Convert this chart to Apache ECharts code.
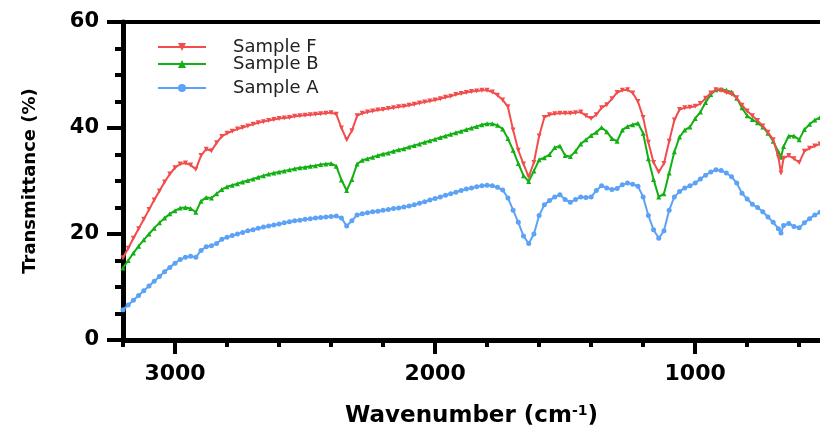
<!DOCTYPE html>
<html>
<head>
<meta charset="utf-8">
<script src="https://cdn.jsdelivr.net/npm/echarts@6/dist/echarts.min.js"></script>
<style>
html,body{margin:0;padding:0;background:#fff;}
#chart{width:820px;height:425px;}
</style>
</head>
<body>
<div id="chart"></div>
<script>
// Wavenumber sample positions (cm-1)
const wavenumbers = [
  3200,3180,3160,3140,3120,3100,3080,3060,3040,3020,
  3000,2980,2960,2940,2920,2900,2880,2860,2840,2820,
  2800,2780,2760,2740,2720,2700,2680,2660,2640,2620,
  2600,2580,2560,2540,2520,2500,2480,2460,2440,2420,
  2400,2380,2360,2340,2320,2300,2280,2260,2240,2220,
  2200,2180,2160,2140,2120,2100,2080,2060,2040,2020,
  2000,1980,1960,1940,1920,1900,1880,1860,1840,1820,
  1800,1780,1760,1740,1720,1700,1680,1660,1640,1620,
  1600,1580,1560,1540,1520,1500,1480,1460,1440,1420,
  1400,1380,1360,1340,1320,1300,1280,1260,1240,1220,
  1200,1180,1160,1140,1120,1100,1080,1060,1040,1020,
  1000,980,960,940,920,900,880,860,840,820,
  800,780,760,740,720,700,680,670,660,640,
  620,600,580,560,540,520
];
const sampleF = [
  15.5,17.3,19.2,21.0,22.8,24.6,26.4,28.1,29.8,31.3,
  32.5,33.2,33.4,33.0,32.2,34.8,36.0,35.7,37.2,38.4,
  39.0,39.4,39.8,40.1,40.4,40.7,41.0,41.2,41.4,41.6,
  41.8,41.9,42.0,42.2,42.3,42.4,42.5,42.6,42.7,42.8,
  42.9,42.6,40.0,37.8,39.5,42.3,42.8,43.0,43.2,43.4,
  43.5,43.7,43.8,44.0,44.1,44.3,44.5,44.7,44.9,45.1,
  45.3,45.5,45.8,46.0,46.3,46.5,46.7,46.9,47.0,47.1,
  47.1,46.8,46.2,45.3,44.0,39.6,35.8,33.2,30.8,33.5,
  38.5,42.0,42.5,42.7,42.8,42.8,42.8,42.9,43.0,42.3,
  41.8,42.5,43.8,44.4,45.5,46.7,47.1,47.2,46.6,45.0,
  42.0,37.3,33.5,31.7,33.3,37.5,41.5,43.5,43.8,43.9,
  44.1,44.6,45.6,46.6,47.2,47.1,46.7,46.4,45.7,44.3,
  43.2,42.3,41.4,40.4,39.2,37.8,34.5,31.5,34.3,34.8,
  34.2,33.5,35.6,36.2,36.6,37.0
];
const sampleB = [
  13.6,15.0,16.4,17.7,18.9,20.0,21.1,22.1,23.0,23.8,
  24.4,24.9,25.0,24.8,24.1,26.2,26.9,26.8,27.6,28.4,
  28.9,29.2,29.5,29.8,30.1,30.4,30.7,31.0,31.3,31.5,
  31.7,31.9,32.1,32.3,32.5,32.6,32.8,32.9,33.1,33.2,
  33.3,32.8,30.2,28.2,30.3,33.2,33.9,34.2,34.5,34.8,
  35.1,35.3,35.6,35.9,36.1,36.4,36.7,37.0,37.3,37.6,
  37.9,38.2,38.5,38.8,39.1,39.4,39.7,40.0,40.3,40.6,
  40.8,40.8,40.5,39.8,38.0,35.8,33.3,31.0,29.9,31.9,
  34.0,34.4,35.0,36.3,36.6,34.8,34.6,35.6,37.0,37.8,
  38.6,39.2,40.1,39.3,38.0,37.5,39.6,40.3,40.6,40.9,
  39.0,34.2,30.3,27.0,27.6,31.5,35.5,38.3,39.6,40.2,
  41.8,43.0,44.8,46.3,47.2,47.3,47.1,46.8,45.6,43.8,
  42.3,41.6,41.0,40.2,39.0,37.5,35.5,34.5,36.5,38.5,
  38.5,37.8,39.7,40.7,41.5,42.0
];
const sampleA = [
  5.7,6.6,7.5,8.4,9.3,10.2,11.1,12.0,12.9,13.7,
  14.5,15.2,15.6,15.8,15.6,16.9,17.6,17.8,18.2,19.0,
  19.4,19.7,20.0,20.3,20.6,20.8,21.1,21.3,21.5,21.7,
  21.9,22.1,22.3,22.5,22.6,22.8,22.9,23.0,23.1,23.2,
  23.3,23.4,23.0,21.5,22.5,23.6,23.8,24.0,24.2,24.3,
  24.5,24.6,24.8,24.9,25.1,25.3,25.5,25.8,26.1,26.4,
  26.7,27.0,27.3,27.6,27.9,28.2,28.5,28.7,28.9,29.1,
  29.2,29.1,28.8,28.3,26.8,24.5,22.2,19.6,18.2,20.0,
  23.5,25.5,26.3,27.0,27.4,26.5,26.0,26.5,27.0,26.9,
  27.0,28.2,29.1,28.7,28.4,28.6,29.3,29.6,29.4,29.0,
  27.0,23.5,20.8,19.2,20.6,24.5,27.0,28.0,28.7,29.1,
  29.6,30.4,31.1,31.7,32.1,32.0,31.5,30.8,29.6,27.7,
  26.6,25.6,25.0,24.2,23.2,22.2,21.0,20.2,21.6,22.0,
  21.4,21.2,22.1,22.9,23.6,24.1
];
const seriesNames = ['Sample F', 'Sample B', 'Sample A'];
const majorXTicks = [3000, 2000, 1000];
const minorXTicks = [3200, 2800, 2600, 2400, 2200, 1800, 1600, 1400, 1200, 800, 600];
const yTicks = [0, 20, 40, 60];

const pair = arr => wavenumbers.map((w, i) => [w, arr[i]]);
const FONT = 'DejaVu Sans';
const X_MIN = 520, X_MAX = 3200;

const chart = echarts.init(document.getElementById('chart'), null, {renderer: 'canvas'});
const legendBase = {
  left: 157, orient: 'horizontal', itemWidth: 48, itemHeight: 10, padding: 0,
  textStyle: {fontFamily: FONT, fontSize: 18, color: '#222', padding: [0, 0, 0, 22]}
};
chart.setOption({
  animation: false,
  backgroundColor: '#fff',
  grid: {left: 123, right: 0, top: 22, bottom: 85, containLabel: false, outerBoundsMode: 'none'},
  legend: [
    Object.assign({}, legendBase, {data: [seriesNames[0]], top: 38}),
    Object.assign({}, legendBase, {data: [seriesNames[1]], top: 55}),
    Object.assign({}, legendBase, {data: [seriesNames[2]], top: 79})
  ],
  xAxis: [
    {
      type: 'value', min: X_MIN, max: X_MAX, inverse: true, position: 'bottom',
      axisLine: {show: true, onZero: false, lineStyle: {color: '#000', width: 5}},
      axisTick: {show: true, customValues: majorXTicks, length: 14, lineStyle: {color: '#000', width: 4}},
      axisLabel: {show: true, customValues: majorXTicks, margin: 23, color: '#000',
        fontFamily: FONT, fontWeight: 'bold', fontSize: 22, formatter: v => String(v)},
      splitLine: {show: false},
      name: 'Wavenumber (cm{sup|-1})',
      nameLocation: 'middle', nameGap: 64,
      nameTextStyle: {fontFamily: FONT, fontWeight: 'bold', fontSize: 23, color: '#000',
        rich: {sup: {fontFamily: FONT, fontWeight: 'bold', fontSize: 14, color: '#000', verticalAlign: 'top', padding: [0, 0, 10, 0]}}}
    },
    {
      type: 'value', min: X_MIN, max: X_MAX, inverse: true, position: 'bottom',
      axisLine: {show: false, onZero: false},
      axisTick: {show: true, customValues: minorXTicks, length: 7, lineStyle: {color: '#000', width: 4}},
      axisLabel: {show: false},
      splitLine: {show: false}
    },
    {
      type: 'value', min: X_MIN, max: X_MAX, inverse: true, position: 'top',
      axisLine: {show: true, onZero: false, lineStyle: {color: '#000', width: 4}},
      axisTick: {show: false}, axisLabel: {show: false}, splitLine: {show: false}
    }
  ],
  yAxis: {
    type: 'value', min: yTicks[0], max: yTicks[yTicks.length - 1], interval: 20,
    axisLine: {show: true, onZero: false, lineStyle: {color: '#000', width: 5}},
    axisTick: {show: true, length: 16, lineStyle: {color: '#000', width: 4}},
    minorTick: {show: true, splitNumber: 4, length: 8, lineStyle: {color: '#000', width: 4}},
    axisLabel: {margin: 24, color: '#000', fontFamily: FONT, fontWeight: 'bold', fontSize: 21},
    splitLine: {show: false}, minorSplitLine: {show: false},
    name: 'Transmittance (%)', nameLocation: 'middle', nameGap: 84,
    nameTextStyle: {fontFamily: FONT, fontWeight: 'bold', fontSize: 18, color: '#000'}
  },
  series: [
    {
      name: seriesNames[0], type: 'line', xAxisIndex: 0, data: pair(sampleF),
      symbol: 'triangle', symbolRotate: 180, symbolSize: 5, showAllSymbol: true,
      lineStyle: {color: '#f24d4d', width: 2}, itemStyle: {color: '#f24d4d'}, z: 3
    },
    {
      name: seriesNames[1], type: 'line', xAxisIndex: 0, data: pair(sampleB),
      symbol: 'triangle', symbolSize: 5, showAllSymbol: true,
      lineStyle: {color: '#13b013', width: 2}, itemStyle: {color: '#13b013'}, z: 2
    },
    {
      name: seriesNames[2], type: 'line', xAxisIndex: 0, data: pair(sampleA),
      symbol: 'circle', symbolSize: 5, showAllSymbol: true,
      lineStyle: {color: '#5ca2f5', width: 2}, itemStyle: {color: '#5ca2f5'}, z: 1
    }
  ]
});
</script>
</body>
</html>
